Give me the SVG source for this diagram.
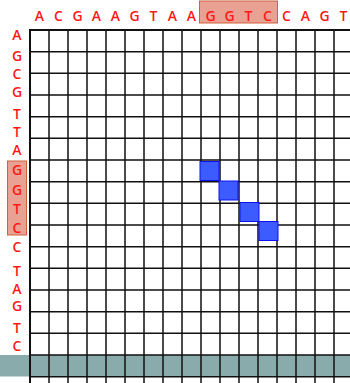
<svg xmlns="http://www.w3.org/2000/svg" width="350" height="383" viewBox="0 0 350 383">
<style>
.lbl{font-family:"Open Sans","DejaVu Sans",sans-serif;font-size:14px;font-weight:600;fill:#ff1a1a;text-anchor:middle}
.g{stroke:#111;stroke-width:1.5;fill:none}
.hl{fill:#e0826e;fill-opacity:0.75;stroke:#d0603e;stroke-width:1}
.blk{fill:#3d5cff;stroke:#1010ee;stroke-width:1}
</style>
<rect width="350" height="383" fill="#fff"/>
<g id="highlights">
<rect class="hl" x="199.5" y="1" width="78" height="22"/>
<rect class="hl" x="7.5" y="161" width="19" height="74"/>
</g>
<rect id="band" x="0" y="355" width="350" height="21.5" fill="#8aabab"/>
<g id="grid" class="g">
<path d="M30,29V383M49,30V383M68,30V383M87,30V383M106,30V383M125,30V383M144,30V383M163,30V383M182,30V383M201,30V383M220,30V383M239,30V383M258,30V383M277,30V383M296,30V383M315,30V383M334,30V383"/>
<path d="M29,30H350M30,51.67H350M30,73.33H350M30,95H350M30,116.67H350M30,138.33H350M30,160H350M30,181.67H350M30,203.33H350M30,225H350M30,246.67H350M30,268.33H350M30,290H350M30,311.67H350M30,333.33H350M30,355H350M30,376.67H350"/>
</g>
<path d="M30,29V383M29,30H350" stroke="#111" stroke-width="2" fill="none"/>
<g id="cells">
<rect class="blk" x="200" y="161.5" width="19" height="19"/>
<rect class="blk" x="219" y="181" width="19" height="19"/>
<rect class="blk" x="240" y="202.5" width="19" height="19"/>
<rect class="blk" x="259" y="221.5" width="19" height="19"/>
</g>
<g id="top-seq" class="lbl">
<text x="39.5" y="21">A</text><text x="58.5" y="21">C</text><text x="77.5" y="21">G</text><text x="96.5" y="21">A</text><text x="115.5" y="21">A</text><text x="134.5" y="21">G</text><text x="153.5" y="21">T</text><text x="172.5" y="21">A</text><text x="191.5" y="21">A</text><text x="210.5" y="21">G</text><text x="229.5" y="21">G</text><text x="248.5" y="21">T</text><text x="267.5" y="21">C</text><text x="286.5" y="21">C</text><text x="305.5" y="21">A</text><text x="324.5" y="21">G</text><text x="343.5" y="21">T</text>
</g>
<g id="left-seq" class="lbl">
<text x="17" y="39.5">A</text><text x="17" y="61">G</text><text x="17" y="78.5">C</text><text x="17" y="96.5">G</text><text x="17" y="119">T</text><text x="17" y="137">T</text><text x="17" y="155">A</text><text x="17" y="174.5">G</text><text x="17" y="195">G</text><text x="17" y="213.5">T</text><text x="17" y="233">C</text><text x="17" y="252">C</text><text x="17" y="276">T</text><text x="17" y="293.5">A</text><text x="17" y="311">G</text><text x="17" y="333">T</text><text x="17" y="350.5">C</text>
</g>
</svg>
